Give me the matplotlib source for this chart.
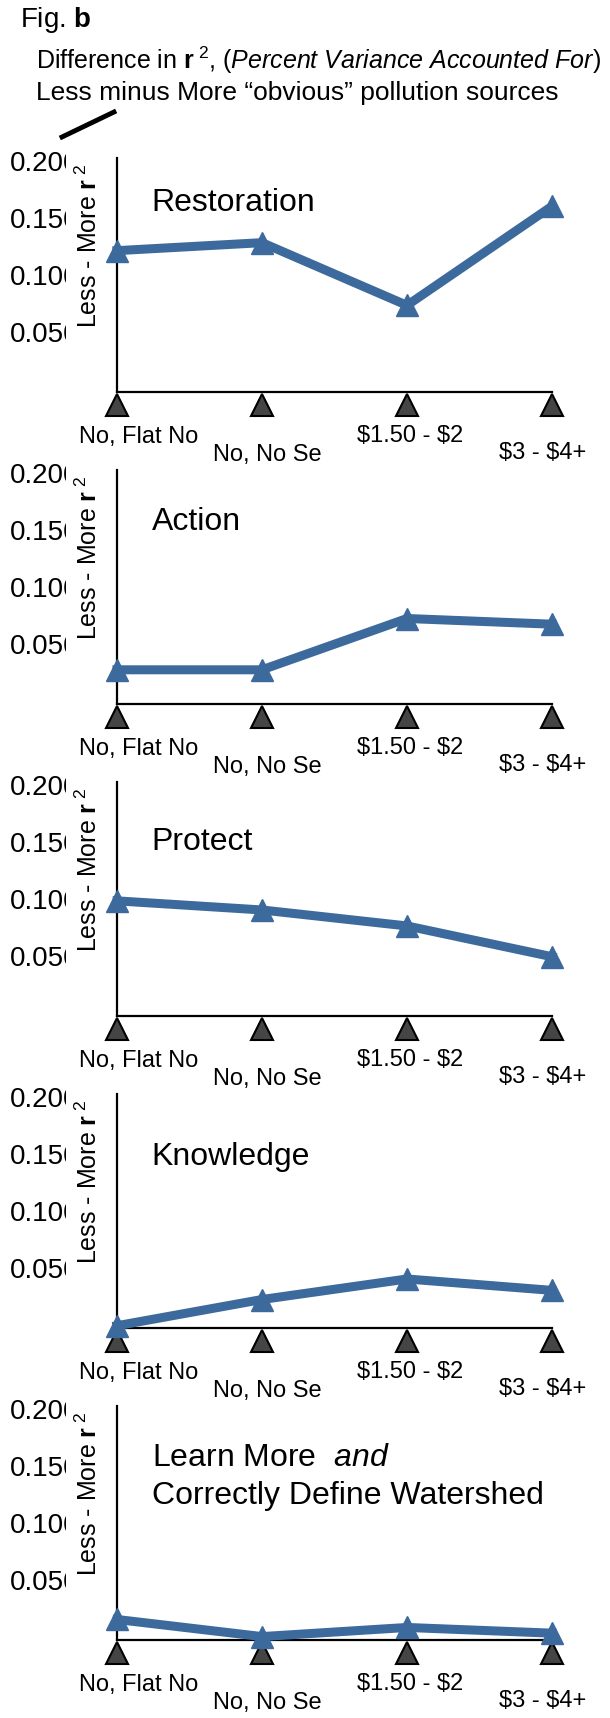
import matplotlib
matplotlib.use('Agg')

import matplotlib.pyplot as plt
from matplotlib.lines import Line2D
from matplotlib.transforms import Bbox, TransformedBbox, offset_copy

plt.rcParams['font.family'] = ['Liberation Sans', 'DejaVu Sans']
plt.rcParams['mathtext.fontset'] = 'custom'
plt.rcParams['mathtext.rm'] = 'Liberation Sans'
plt.rcParams['mathtext.it'] = 'Liberation Sans:italic'
plt.rcParams['mathtext.bf'] = 'Liberation Sans:bold'

# ---- data ----
categories = ['No, Flat No', 'No, No Se', '$1.50 - $2', '$3 - $4+']
panel_titles = ['Restoration', 'Action', 'Protect', 'Knowledge',
                'Learn More  $\\mathit{and}$\nCorrectly Define Watershed']
restoration = [0.124, 0.131, 0.076, 0.163]
action = [0.030, 0.030, 0.075, 0.070]
protect = [0.101, 0.093, 0.079, 0.052]
knowledge = [0.002, 0.025, 0.043, 0.033]
learn_more = [0.018, 0.003, 0.011, 0.006]
series = [restoration, action, protect, knowledge, learn_more]
ytick_vals = [0.05, 0.10, 0.15, 0.20]
ytick_text = ['0.050', '0.100', '0.150', '0.200']
ylabel = 'Less - More $\\mathbf{r}^{\\ 2}$'

# ---- layout (pixels of the 610x1718 output) ----
W, H = 610, 1718
AX_LEFT, AX_RIGHT = 117, 552
AXIS0 = 392          # y pixel of the first x-axis
STEP = 312           # vertical step between panels
PX_PER_UNIT = 1140   # pixels per 1.0 of r2 difference
YMAX = 0.205
title_y = [0.166, 0.160, 0.153, 0.150, 0.160]
label_off = [(22, 45), (5, 63), (3, 44), (-9, 61)]  # px offsets of x labels
BLUE = '#3D6A9D'

fig = plt.figure(figsize=(W / 100, H / 100), dpi=100)
# 刻度标签在这里被截断，和原图一样
clip = TransformedBbox(Bbox.from_extents(0, 0, 65.5 / W, 1), fig.transFigure)
xs = list(range(len(categories)))

for i, (vals, title) in enumerate(zip(series, panel_titles)):
    base = AXIS0 + STEP * i
    h = YMAX * PX_PER_UNIT
    ax = fig.add_axes([AX_LEFT / W, 1 - base / H, (AX_RIGHT - AX_LEFT) / W, h / H])
    ax.set_xlim(0, len(categories) - 1)
    ax.set_ylim(0, YMAX)
    ax.patch.set_visible(False)
    for s in ['top', 'right']:
        ax.spines[s].set_visible(False)
    for s in ['left', 'bottom']:
        ax.spines[s].set_linewidth(1.6)
    ax.set_xticks([])
    ax.set_yticks([])

    # category triangles under the axis
    tri = offset_copy(ax.transData, fig=fig, x=0, y=-13, units='dots')
    ax.plot(xs, [0] * len(xs), linestyle='none', marker='^', markersize=16,
            markerfacecolor='#454545', markeredgecolor='black', markeredgewidth=1.5,
            transform=tri, clip_on=False, zorder=4)

    ax.plot(xs, vals, color=BLUE, linewidth=6.5, marker='^', markersize=16,
            markerfacecolor=BLUE, markeredgecolor=BLUE, clip_on=False,
            solid_joinstyle='miter', zorder=5)

    # y tick labels
    for v, t in zip(ytick_vals, ytick_text):
        txt = ax.annotate(t, xy=(10 / W, v), xycoords=('figure fraction', 'data'),
                          ha='left', va='center', fontsize=20, annotation_clip=False)
        txt.set_clip_on(True)
        txt.set_clip_box(clip)

    ax.annotate(ylabel, xy=(0, 0.1285), xycoords='data', xytext=(-28 * 0.72, 0),
                textcoords='offset points', rotation=90, ha='center', va='center',
                fontsize=18, annotation_clip=False)

    for j, line in enumerate(title.split('\n')):
        ax.text(0.24, title_y[i] - j * 0.034, line, fontsize=23, ha='left', va='center')

    for x, lab, (dx, dy) in zip(xs, categories, label_off):
        ax.annotate(lab.replace('$', '\\$'), xy=(x, 0), xycoords='data',
                    xytext=(dx * 0.72, -dy * 0.72), textcoords='offset points',
                    ha='center', va='center', fontsize=17, annotation_clip=False)

# header
fig.text(20 / W, 1 - 20 / H, 'Fig. $\\mathbf{b}$', fontsize=20, ha='left', va='center')
fig.text(36 / W, 1 - 60 / H,
         'Difference in $\\mathbf{r}^{\\ 2}$, ($\\mathit{Percent\\ Variance\\ Accounted\\ For)}$',
         fontsize=18, ha='left', va='center')
fig.text(36 / W, 1 - 93 / H, 'Less minus More \u201cobvious\u201d pollution sources',
         fontsize=19, ha='left', va='center')
fig.add_artist(Line2D([62 / W, 114 / W], [1 - 137 / H, 1 - 112 / H],
                      transform=fig.transFigure, color='black', linewidth=3.5))

fig.savefig('out.png', dpi=100)
